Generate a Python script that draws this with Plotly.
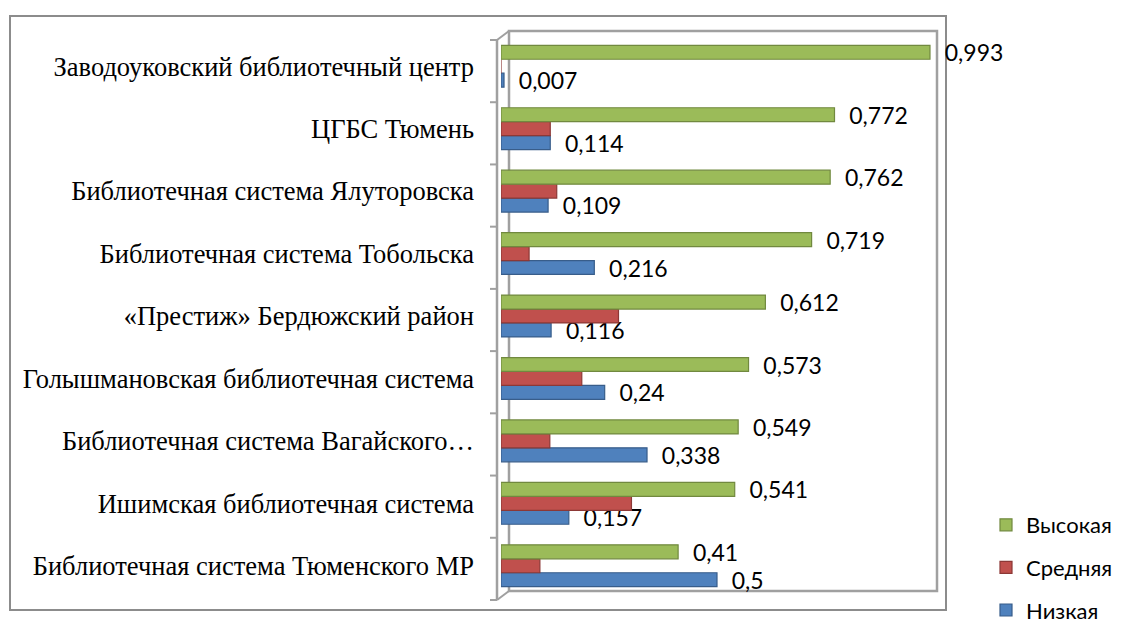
import plotly.graph_objects as go

categories = [
    "Библиотечная система Тюменского МР",
    "Ишимская библиотечная система",
    "Библиотечная система Вагайского…",
    "Голышмановская библиотечная система",
    "«Престиж» Бердюжский район",
    "Библиотечная система Тобольска",
    "Библиотечная система Ялуторовска",
    "ЦГБС Тюмень",
    "Заводоуковский библиотечный центр",
]
high = [0.41, 0.541, 0.549, 0.573, 0.612, 0.719, 0.762, 0.772, 0.993]
low = [0.5, 0.157, 0.338, 0.24, 0.116, 0.216, 0.109, 0.114, 0.007]
mid = [0.09, 0.302, 0.113, 0.187, 0.272, 0.065, 0.129, 0.114, 0.0]

W, H = 1123, 623
L, R, T, B = 501, 190, 35, 26
PW, PH = W - L - R, H - T - B


def px(x):
    return (x - L) / PW


def py(y):
    return (H - B - y) / PH


def fmt(v):
    s = ("%.3f" % v).rstrip("0").rstrip(".")
    return "\u00a0\u00a0" + s.replace(".", ",")


fig = go.Figure()
series = [
    ("Низкая", low, "#4F81BD", "#385D8A", True, 3),
    ("Средняя", mid, "#C0504D", "#8C3836", False, 2),
    ("Высокая", high, "#9BBB59", "#71893F", True, 1),
]
for name, vals, col, edge, lab, rank in series:
    fig.add_trace(go.Bar(
        y=categories, x=vals, orientation="h", name=name,
        legendgroup=name, legendrank=rank,
        marker=dict(color=col, line=dict(color=edge, width=1.2)),
        text=[fmt(v) for v in vals] if lab else None,
        textposition="outside" if lab else "none",
        textfont=dict(family="Lato, Open Sans, sans-serif", size=23, color="#000000"),
        constraintext="none", cliponaxis=False,
    ))

shapes = []
gray = "#8C8C8C"
wall = "#A0A0A0"
# outer chart box
shapes.append(dict(type="rect", xref="paper", yref="paper",
                   x0=px(10), x1=px(946), y0=py(610), y1=py(16),
                   line=dict(color=gray, width=2), layer="below"))
# back wall
shapes.append(dict(type="rect", xref="paper", yref="paper",
                   x0=px(509), x1=px(937), y0=py(591), y1=py(31),
                   line=dict(color=wall, width=2.5), layer="below"))
# front category axis
shapes.append(dict(type="line", xref="paper", yref="paper",
                   x0=px(497), x1=px(497), y0=py(600), y1=py(40),
                   line=dict(color=wall, width=2.5)))
shapes.append(dict(type="line", xref="paper", yref="paper",
                   x0=px(497), x1=px(509), y0=py(40), y1=py(31),
                   line=dict(color=wall, width=2)))
shapes.append(dict(type="line", xref="paper", yref="paper",
                   x0=px(497), x1=px(509), y0=py(600), y1=py(591),
                   line=dict(color=wall, width=2)))
n = len(categories)
for k in range(n + 1):
    yy = 40 + k * (560 / n)
    shapes.append(dict(type="line", xref="paper", yref="paper",
                       x0=px(490), x1=px(497), y0=py(yy), y1=py(yy),
                       line=dict(color=wall, width=2)))

fig.update_layout(
    width=W, height=H,
    margin=dict(l=L, r=R, t=T, b=B, autoexpand=False),
    paper_bgcolor="white", plot_bgcolor="rgba(0,0,0,0)",
    barmode="group", bargap=0.33, bargroupgap=0.0,
    shapes=shapes,
    xaxis=dict(range=[0, 1], showgrid=False, zeroline=False,
               showticklabels=False, showline=False, fixedrange=True),
    yaxis=dict(showgrid=False, zeroline=False, showline=False,
               ticks="", ticklabelstandoff=26, automargin=False,
               tickfont=dict(family="Liberation Serif, Times New Roman, serif",
                             size=26.5, color="#000000")),
    legend=dict(x=px(986), y=py(504), xanchor="left", yanchor="top",
                traceorder="grouped", tracegroupgap=11,
                font=dict(family="Lato, Open Sans, sans-serif", size=22, color="#000000"),
                bgcolor="rgba(0,0,0,0)", itemwidth=30),
    showlegend=True,
)

fig.write_html("out.html", config={"displayModeBar": False},
               post_script="document.body.style.margin='0px';")
